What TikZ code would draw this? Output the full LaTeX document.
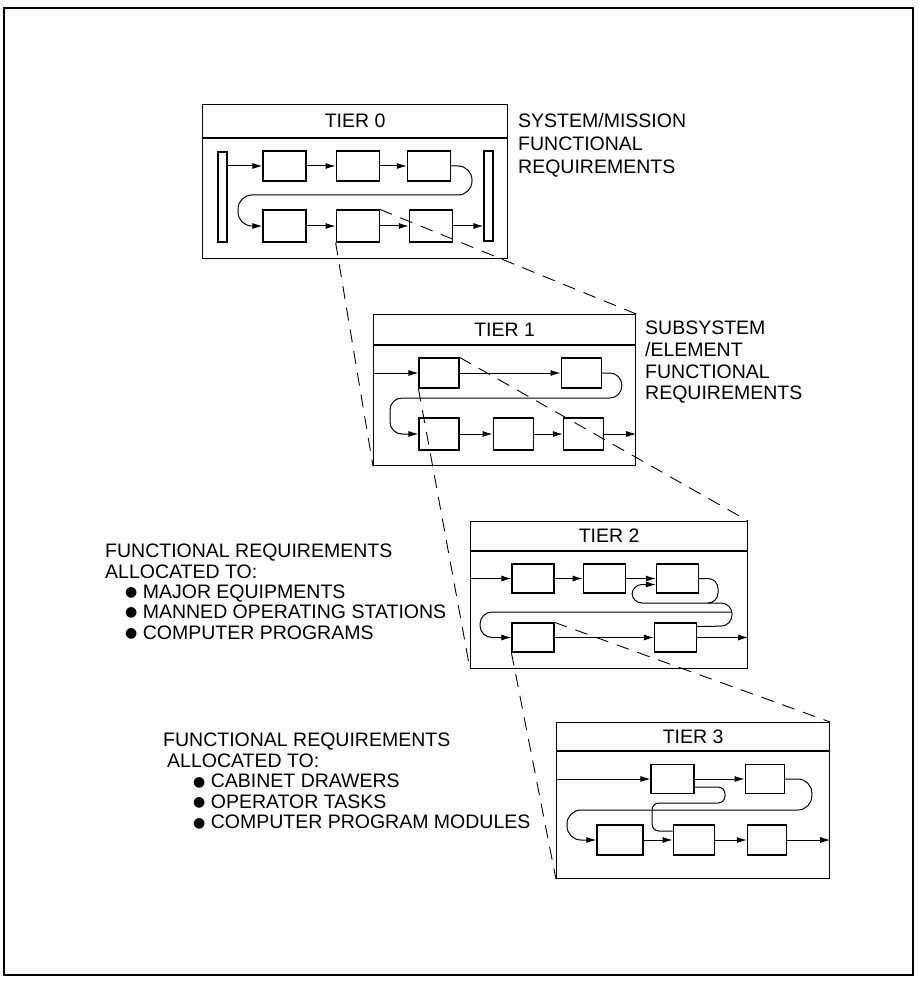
\documentclass[tikz,border=0pt]{standalone}
\usepackage{fontspec}
\setmainfont{Liberation Sans}
\newfontfamily\dotfont{DejaVu Sans}
\newcommand{\dotitem}{\raisebox{1.8pt}{\dotfont\fontsize{14}{14}\selectfont ●}\ }
\usetikzlibrary{positioning, arrows.meta}

\begin{document}
\begin{tikzpicture}[
  x=1pt, y=-1pt,
  font=\fontsize{19.5}{21}\selectfont,
  blk/.style={draw, line width=1.2pt, minimum width=43pt, minimum height=30pt, inner sep=0pt},
  bar/.style={draw, line width=1.2pt, minimum width=9pt, minimum height=90pt, inner sep=0pt},
  tierhead/.style={draw, line width=1.2pt, inner sep=0pt, anchor=north west},
  tierbody/.style={draw, line width=1.2pt, inner sep=0pt},
  note/.style={align=left, anchor=north west, inner sep=0pt},
  flow/.style={-{Latex[length=10pt,width=6pt]}, line width=1pt},
  wind/.style={flow, rounded corners=12pt},
  lens/.style={line width=0.9pt, dash pattern=on 13pt off 9pt}
]
\useasboundingbox (0,0) rectangle (918,981);
\draw[line width=1.2pt] (4,8) rectangle (913,975);

% tier 0
\node[tierhead, minimum width=305pt, minimum height=33pt] (t0h) at (202,104) {TIER 0};
\node[tierbody, minimum width=305pt, minimum height=120pt, below=0pt of t0h] (t0) {};
\node[bar] (t0in) at (222.5,197) {};
\node[bar] (t0out) at (488.5,196) {};
\node[blk] (t0b1) at (284.5,166) {};
\node[blk, right=29pt of t0b1] (t0b2) {};
\node[blk, right=27pt of t0b2] (t0b3) {};
\node[blk, minimum height=32pt] (t0b4) at (284.5,226) {};
\node[blk, minimum height=32pt, right=29pt of t0b4] (t0b5) {};
\node[blk, minimum height=32pt, right=29pt of t0b5] (t0b6) {};
\draw[flow] (t0in.east |- t0b1) -- (t0b1);
\draw[flow] (t0b1) -- (t0b2);
\draw[flow] (t0b2) -- (t0b3);
\draw[wind, rounded corners=14pt] (t0b3.east) -- ++(21,0) |- (238,195) |- (t0b4.west);
\draw[flow] (t0b4) -- (t0b5);
\draw[flow] (t0b5) -- (t0b6);
\draw[flow] (t0b6) -- (t0out.west |- t0b6);
\node[note, font=\fontsize{19.5}{23}\selectfont] (lbl0) at (518,113) {SYSTEM/MISSION\\FUNCTIONAL\\REQUIREMENTS};

% tier 1
\node[tierhead, minimum width=262pt, minimum height=30pt] (t1h) at (373,314) {TIER 1};
\node[tierbody, minimum width=262pt, minimum height=120pt, below=0pt of t1h] (t1) {};
\node[blk, minimum width=40pt] (t1b1) at (439,373) {};
\node[blk, minimum width=40pt, right=101pt of t1b1] (t1b2) {};
\node[blk, minimum width=40pt, minimum height=32pt] (t1b3) at (439,434) {};
\node[blk, minimum width=40pt, minimum height=32pt, right=33pt of t1b3] (t1b4) {};
\node[blk, minimum width=40pt, minimum height=32pt, right=29pt of t1b4] (t1b5) {};
\draw[flow] (t1.west |- t1b1) -- (t1b1);
\draw[flow] (t1b1) -- (t1b2);
\draw[wind] (t1b2.east) -- ++(20,0) |- (390,398) |- (t1b3.west);
\draw[flow] (t1b3) -- (t1b4);
\draw[flow] (t1b4) -- (t1b5);
\draw[flow] (t1b5) -- (t1.east |- t1b5);
\node[note, font=\fontsize{19.5}{21.7}\selectfont] (lbl1) at (645,321) {SUBSYSTEM\\/ELEMENT\\FUNCTIONAL\\REQUIREMENTS};

% tier 2
\node[tierhead, minimum width=277pt, minimum height=29pt] (t2h) at (470,521) {TIER 2};
\node[tierbody, minimum width=277pt, minimum height=117pt, below=0pt of t2h] (t2) {};
\node[blk, minimum width=42pt, minimum height=29pt] (t2b1) at (533,578.5) {};
\node[blk, minimum width=42pt, minimum height=29pt, right=28pt of t2b1] (t2b2) {};
\node[blk, minimum width=42pt, minimum height=29pt, right=30pt of t2b2] (t2b3) {};
\node[blk, minimum width=42pt, minimum height=29pt] (t2b4) at (533,637.5) {};
\node[blk, minimum width=42pt, minimum height=29pt] (t2b5) at (675.5,637.5) {};
\draw[flow] (t2.west |- t2b1) -- (t2b1);
\draw[flow] (t2b1) -- (t2b2);
\draw[flow] (t2b2) -- (t2b3);
\draw[wind, rounded corners=10pt] (t2b3.east) -- (718,578.5) |- (632,603) |- ([yshift=-6pt]t2b3.west);
\draw[line width=1pt, rounded corners=11pt] (708,603) -- (732,603) -- (732,626) -- ([yshift=11pt]t2b5.east);
\draw[wind] (731,612) -- (480,612) |- (t2b4.west);
\draw[flow] (t2b4) -- (t2b5);
\draw[flow] (t2b5) -- (t2.east |- t2b5);
\node[note, font=\fontsize{19.5}{20.3}\selectfont] (alloc2) at (105,544)
  {FUNCTIONAL REQUIREMENTS\\ALLOCATED TO:\\\hspace*{20pt}\dotitem MAJOR EQUIPMENTS\\\hspace*{20pt}\dotitem MANNED OPERATING STATIONS\\\hspace*{20pt}\dotitem COMPUTER PROGRAMS};

% tier 3
\node[tierhead, minimum width=273pt, minimum height=28pt] (t3h) at (556,722) {TIER 3};
\node[tierbody, minimum width=273pt, minimum height=127pt, below=0pt of t3h] (t3) {};
\node[blk, minimum height=29pt] (t3b1) at (672.5,779) {};
\node[blk, minimum width=39pt, minimum height=29pt, right=50pt of t3b1] (t3b2) {};
\node[blk, minimum width=46pt] (t3b3) at (620,840) {};
\node[blk, minimum width=41pt, right=29pt of t3b3] (t3b4) {};
\node[blk, minimum width=39pt, right=32pt of t3b4] (t3b5) {};
\draw[flow] (t3.west |- t3b1) -- (t3b1);
\draw[flow] (t3b1) -- (t3b2);
\draw[wind, rounded corners=14pt] (t3b2.east) -- ++(27,0) |- (567,810) |- (t3b3.west);
\draw[line width=1pt, rounded corners=7pt] ([yshift=-8pt]t3b1.east) -| (725,803) -| (652,831) -- ([yshift=9pt]t3b4.west);
\draw[flow] (t3b3) -- (t3b4);
\draw[flow] (t3b4) -- (t3b5);
\draw[flow] (t3b5) -- (t3.east |- t3b5);
\node[note, font=\fontsize{19.5}{20.5}\selectfont] (alloc3) at (163,733)
  {FUNCTIONAL REQUIREMENTS\\\hspace*{4pt}ALLOCATED TO:\\\hspace*{30pt}\dotitem CABINET DRAWERS\\\hspace*{30pt}\dotitem OPERATOR TASKS\\\hspace*{30pt}\dotitem COMPUTER PROGRAM MODULES};

% zoom lines
\draw[lens] (t0b5.south west) -- (t1.south west);
\draw[lens] (t0b5.north east) -- (t1h.north east);
\draw[lens] (t1b1.south west) -- (t2.south west);
\draw[lens] (t1b1.north east) -- (t2h.north east);
\draw[lens] (t2b4.south west) -- (t3.south west);
\draw[lens] (t2b4.north east) -- (t3h.north east);
\end{tikzpicture}
\end{document}
